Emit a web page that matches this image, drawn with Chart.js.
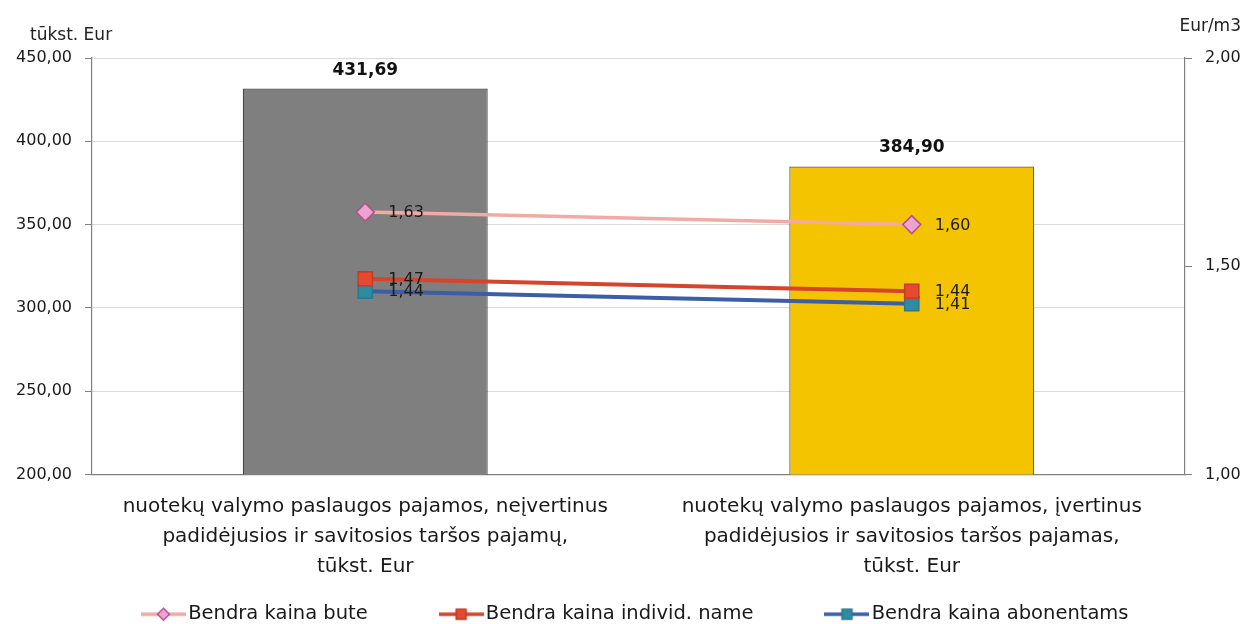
<!DOCTYPE html>
<html>
<head>
<meta charset="utf-8">
<script src="https://cdn.jsdelivr.net/npm/chart.js@4/dist/chart.umd.min.js"></script>
<style>
  html, body { margin: 0; padding: 0; background: #fff; }
  #wrap { width: 1246px; height: 624px; position: relative; }
</style>
</head>
<body>
<div id="wrap"><canvas id="chart" width="1246" height="624"></canvas></div>
<script>
// ---- data ----
const categories = [
    ['nuotekų valymo paslaugos pajamos, neįvertinus', 'padidėjusios ir savitosios taršos pajamų,', 'tūkst. Eur'],
    ['nuotekų valymo paslaugos pajamos, įvertinus', 'padidėjusios ir savitosios taršos pajamas,', 'tūkst. Eur']
];
const revenue = [431.69, 384.90];
const priceFlat = [1.63, 1.60];
const priceHouse = [1.47, 1.44];
const priceAll = [1.44, 1.41];
const seriesNames = ['Bendra kaina bute', 'Bendra kaina individ. name', 'Bendra kaina abonentams'];
const leftTicks = [200, 250, 300, 350, 400, 450];
const rightTicks = [1.0, 1.5, 2.0];

const FONT = 'DejaVu Sans';
const fmt = v => v.toFixed(2).replace('.', ',');

// legend swatch: line with the marker in the middle
function swatch(lineColor, markerFill, markerBorder, shape) {
    const c = document.createElement('canvas');
    c.width = 45; c.height = 20;
    const g = c.getContext('2d');
    g.strokeStyle = lineColor; g.lineWidth = 3.5;
    g.beginPath(); g.moveTo(0, 10); g.lineTo(45, 10); g.stroke();
    g.fillStyle = markerFill; g.strokeStyle = markerBorder; g.lineWidth = 1.5;
    g.beginPath();
    if (shape === 'diamond') {
        g.moveTo(22.5, 4); g.lineTo(28.5, 10); g.lineTo(22.5, 16); g.lineTo(16.5, 10); g.closePath();
    } else {
        g.rect(17.5, 5, 10, 10);
    }
    g.fill(); g.stroke();
    return c;
}

// value labels and axis unit titles
const labelPlugin = {
    id: 'labels',
    afterDatasetsDraw(chart) {
        const ctx = chart.ctx;
        ctx.save();
        chart.data.datasets.forEach((ds, i) => {
            const meta = chart.getDatasetMeta(i);
            meta.data.forEach((el, j) => {
                const txt = fmt(ds.data[j]);
                if (ds.type === 'bar') {
                    ctx.font = 'bold 17px ' + FONT;
                    ctx.fillStyle = '#111';
                    ctx.textAlign = 'center';
                    ctx.textBaseline = 'alphabetic';
                    ctx.fillText(txt, el.x, el.y - 14);
                } else {
                    ctx.font = '16px ' + FONT;
                    ctx.fillStyle = '#1a1a1a';
                    ctx.textAlign = 'left';
                    ctx.textBaseline = 'middle';
                    ctx.fillText(txt, el.x + 23, el.y + 1);
                }
            });
        });
        ctx.font = '17px ' + FONT;
        ctx.fillStyle = '#222';
        ctx.textBaseline = 'alphabetic';
        ctx.textAlign = 'left';
        ctx.fillText('tūkst. Eur', 30, 40);
        ctx.textAlign = 'right';
        ctx.fillText('Eur/m3', 1241, 31);
        ctx.restore();
    }
};

const lineBase = {
    type: 'line',
    yAxisID: 'y1',
    borderWidth: 4,
    pointBorderWidth: 1.5,
    fill: false
};

const chart = new Chart(document.getElementById('chart').getContext('2d'), {
    data: {
        labels: categories,
        datasets: [
            {
                ...lineBase, order: 1, borderWidth: 3.5,
                label: seriesNames[0], data: priceFlat,
                borderColor: '#f3a9a4', backgroundColor: '#eda3cf',
                pointBackgroundColor: '#eda3cf', pointBorderColor: '#b5508f',
                pointStyle: 'rectRot', pointRadius: 9,
                legendSwatch: swatch('#f3a9a4', '#eda3cf', '#b5508f', 'diamond')
            },
            {
                ...lineBase, order: 2,
                label: seriesNames[1], data: priceHouse,
                borderColor: '#d6452b', backgroundColor: '#e5492f',
                pointBackgroundColor: '#e5492f', pointBorderColor: '#c43b26',
                pointStyle: 'rect', pointRadius: 10,
                legendSwatch: swatch('#d6452b', '#e5492f', '#c43b26', 'square')
            },
            {
                ...lineBase, order: 3,
                label: seriesNames[2], data: priceAll,
                borderColor: '#3b5ea7', backgroundColor: '#2f8ba2',
                pointBackgroundColor: '#2f8ba2', pointBorderColor: '#287a90',
                pointStyle: 'rect', pointRadius: 10,
                legendSwatch: swatch('#3b5ea7', '#2f8ba2', '#287a90', 'square')
            },
            {
                type: 'bar', order: 10,
                label: 'pajamos', data: revenue, yAxisID: 'y',
                backgroundColor: ['#7f7f7f', '#f5c400'],
                borderColor: ['#3f4650', '#4f5a6e'],
                borderWidth: 1.2,
                borderSkipped: false,
                barPercentage: 0.9,
                categoryPercentage: 0.498
            }
        ]
    },
    options: {
        responsive: false,
        animation: false,
        layout: { padding: { top: 58, left: 0, right: 5, bottom: -10 } },
        plugins: {
            tooltip: { enabled: false },
            legend: {
                position: 'bottom',
                fullSize: false,
                labels: {
                    font: { family: FONT, size: 19.5 },
                    color: '#1a1a1a',
                    padding: 4,
                    boxWidth: 30,
                    boxHeight: 20,
                    pointStyleWidth: 30,
                    usePointStyle: true,
                    generateLabels: ch => ch.data.datasets.slice(0, 3).map((ds, i) => ({
                        text: ds.label + (i < 2 ? '            ' : ''),
                        datasetIndex: i,
                        pointStyle: ds.legendSwatch,
                        fontColor: '#1a1a1a',
                        lineWidth: 0,
                        hidden: false
                    }))
                }
            }
        },
        scales: {
            x: {
                grid: { display: false },
                border: { color: '#808080', width: 1.2 },
                afterFit: s => { s.height += 10; },
                ticks: {
                    font: { family: FONT, size: 20, lineHeight: 1.5 },
                    color: '#1a1a1a',
                    maxRotation: 0,
                    autoSkip: false,
                    padding: 9
                }
            },
            y: {
                position: 'left',
                min: 200, max: 450,
                afterBuildTicks: s => { s.ticks = leftTicks.map(v => ({ value: v })); },
                afterFit: s => { s.width = 92; },
                grid: { color: '#d9d9d9', tickLength: 7, tickColor: '#808080' },
                border: { color: '#808080', width: 1.2 },
                ticks: {
                    font: { family: FONT, size: 16 },
                    color: '#1a1a1a',
                    padding: 13,
                    callback: v => fmt(v)
                }
            },
            y1: {
                position: 'right',
                min: 1, max: 2,
                afterBuildTicks: s => { s.ticks = rightTicks.map(v => ({ value: v })); },
                afterFit: s => { s.width = 56; },
                grid: { drawOnChartArea: false, tickLength: 7, tickColor: '#808080' },
                border: { color: '#808080', width: 1.2 },
                ticks: {
                    font: { family: FONT, size: 16 },
                    color: '#1a1a1a',
                    padding: 13,
                    callback: v => fmt(v)
                }
            }
        }
    },
    plugins: [labelPlugin]
});
</script>
</body>
</html>
